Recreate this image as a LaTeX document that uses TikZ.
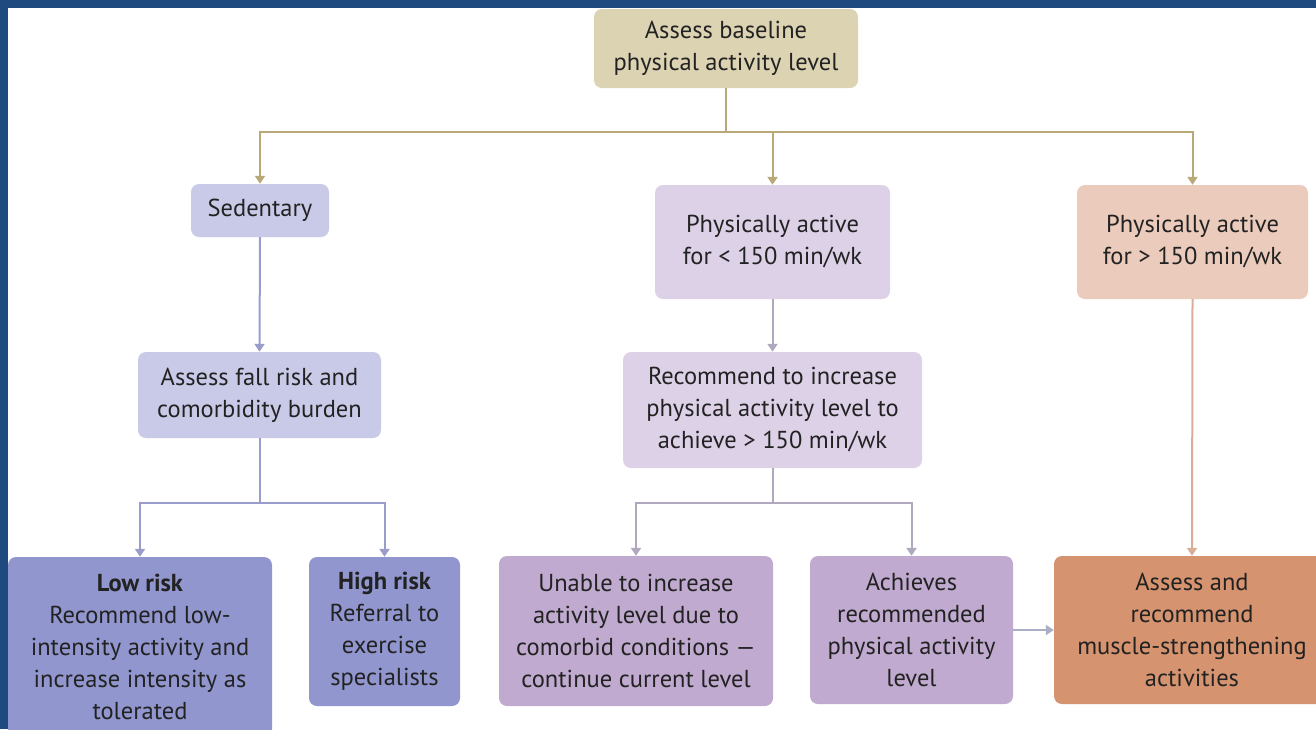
\documentclass[tikz,border=0pt]{standalone}
\usepackage{fontspec}
\setmainfont{PT Sans}
\usetikzlibrary{arrows.meta}
\definecolor{frameblue}{HTML}{1F4A80}
\definecolor{tanbox}{HTML}{DCD3B2}
\definecolor{tanline}{HTML}{B9A878}
\definecolor{sedbox}{HTML}{C9CAE8}
\definecolor{sedline}{HTML}{9A9DCC}
\definecolor{riskbox}{HTML}{9196CF}
\definecolor{midbox}{HTML}{DDD1E8}
\definecolor{midline}{HTML}{B0A8BE}
\definecolor{midbox2}{HTML}{C0AACF}
\definecolor{peachbox}{HTML}{EBCBBB}
\definecolor{peachline}{HTML}{D9AE98}
\definecolor{orangebox}{HTML}{D6936F}
\definecolor{linkline}{HTML}{A9B0C6}
\definecolor{txt}{HTML}{222222}
\tikzset{
  box/.style={rounded corners=8pt, inner sep=0pt, align=center, text=txt,
    font=\fontsize{24.5}{32}\selectfont},
  conn/.style={line width=2pt},
  arr/.style={conn, -{Triangle[width=10pt,length=8pt]}},
}
\begin{document}
\begin{tikzpicture}[x=1pt,y=-1pt]
\clip (0,0) rectangle (1316,729);
\useasboundingbox (0,0) rectangle (1316,729);
\fill[frameblue] (0,0) rectangle (1316,729);
\fill[white] (8,8) rectangle (1330,740);

\node[box, fill=tanbox, minimum width=264pt, minimum height=79pt] (top) at (726,48.5)
  {Assess baseline\\physical activity level};
\node[box, fill=sedbox, minimum width=138pt, minimum height=53pt] (sed) at (260,210.5)
  {Sedentary};
\node[box, fill=midbox, minimum width=235pt, minimum height=114pt] (mid) at (772.5,242)
  {Physically active\\for < 150 min/wk};
\node[box, fill=peachbox, minimum width=231pt, minimum height=114pt] (act) at (1192.5,242)
  {Physically active\\for > 150 min/wk};
\node[box, fill=sedbox, minimum width=243pt, minimum height=86pt] (fall) at (259.5,395)
  {Assess fall risk and\\comorbidity burden};
\node[box, fill=midbox, minimum width=299pt, minimum height=116pt] (rec) at (772.5,410)
  {Recommend to increase\\physical activity level to\\achieve > 150 min/wk};
\node[box, fill=riskbox, minimum width=264pt, minimum height=180pt] (low) at (140,647)
  {\textbf{Low risk}\\Recommend low-\\intensity activity and\\increase intensity as\\tolerated};
\node[box, fill=riskbox, minimum width=151pt, minimum height=149pt] (high) at (384.5,631.5)
  {\textbf{High risk}\\Referral to\\exercise\\specialists};
\node[box, fill=midbox2, minimum width=274pt, minimum height=150pt] (unable) at (636,631)
  {Unable to increase\\activity level due to\\comorbid conditions —\\continue current level};
\node[box, fill=midbox2, minimum width=203pt, minimum height=148pt] (ach) at (911.5,630)
  {Achieves\\recommended\\physical activity\\level};
\node[box, fill=orangebox, minimum width=276pt, minimum height=148pt] (musc) at (1192,630)
  {Assess and\\recommend\\muscle-strengthening\\activities};

% connectors from top
\draw[conn, tanline] (top.south) -- ++(0,44) coordinate (j0);
\draw[conn, tanline] (sed.north |- j0) -- (act.north |- j0);
\draw[arr, tanline] (j0) -| (sed.north);
\draw[arr, tanline] (j0) -| (mid.north);
\draw[arr, tanline] (j0) -| (act.north);

% sedentary branch
\draw[arr, sedline] (sed.south) -- (fall.north);
\draw[conn, sedline] (fall.south) -- ++(0,65) coordinate (j1);
\draw[arr, sedline] (j1) -| (low.north);
\draw[arr, sedline] (j1) -| (high.north);

% middle branch
\draw[arr, midline] (mid.south) -- (rec.north);
\draw[conn, midline] (rec.south) -- ++(0,35) coordinate (j2);
\draw[arr, midline] (j2) -| (unable.north);
\draw[arr, midline] (j2) -| (ach.north);

% right branch
\draw[arr, peachline] (act.south) -- (musc.north);
\draw[arr, linkline] (ach.east) -- (musc.west);
\end{tikzpicture}
\end{document}
